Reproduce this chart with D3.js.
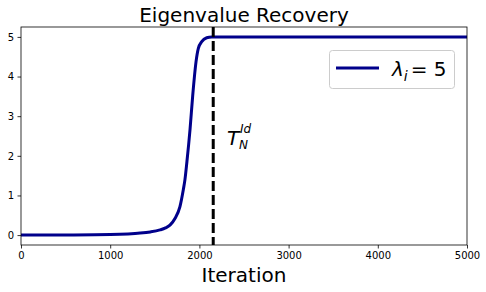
<!DOCTYPE html>
<html><head><meta charset="utf-8">
<script src="https://cdn.jsdelivr.net/npm/d3@7"></script>
<style>body{margin:0;background:#fff}svg{display:block}</style>
</head><body>
<script>
// Data
const iterations = [0, 500, 1000, 1200, 1334, 1450, 1558, 1620, 1670, 1726, 1782, 1820, 1838, 1860, 1895, 1925, 1962, 1988, 2026, 2082, 2138, 2200, 3000, 4000, 5000];
const eigenvalue = [0.0, 0.004, 0.015, 0.03, 0.05, 0.08, 0.13, 0.18, 0.25, 0.42, 0.72, 1.15, 1.4, 1.85, 2.67, 3.52, 4.37, 4.71, 4.88, 4.98, 5.0, 5.0, 5.0, 5.0, 5.0];
const markerIteration = 2155;
const xTicks = [0, 1000, 2000, 3000, 4000, 5000];
const yTicks = [0, 1, 2, 3, 4, 5];
const xDomain = [0, 5000];
const yDomain = [-0.25, 5.25];

const W = 486, H = 292;
const m = {left: 21, right: 467, top: 27, bottom: 245};
const svg = d3.select("body").append("svg").attr("width", W).attr("height", H);
const x = d3.scaleLinear().domain(xDomain).range([m.left, m.right]);
const y = d3.scaleLinear().domain(yDomain).range([m.bottom, m.top]);
const font = "DejaVu Sans";

svg.append("clipPath").attr("id","c").append("rect")
  .attr("x", m.left).attr("y", m.top).attr("width", m.right-m.left).attr("height", m.bottom-m.top);

const pts = iterations.map((d,i)=>[d, eigenvalue[i]]);
svg.append("path").datum(pts).attr("clip-path","url(#c)")
  .attr("fill","none").attr("stroke","#00008b").attr("stroke-width",3)
  .attr("d", d3.line().x(d=>x(d[0])).y(d=>y(d[1])).curve(d3.curveMonotoneX));

svg.append("line").attr("x1", x(markerIteration)).attr("x2", x(markerIteration))
  .attr("y1", m.top).attr("y2", m.bottom)
  .attr("stroke","#000").attr("stroke-width",3).attr("stroke-dasharray","10,4");

// axes
const xa = svg.append("g").attr("transform",`translate(0,${m.bottom})`)
  .call(d3.axisBottom(x).tickValues(xTicks).tickFormat(d3.format("d")).tickSize(3.5).tickPadding(3.5));
const ya = svg.append("g").attr("transform",`translate(${m.left},0)`)
  .call(d3.axisLeft(y).tickValues(yTicks).tickFormat(d3.format("d")).tickSize(3.5).tickPadding(3.5));
[xa, ya].forEach(g=>{
  g.select(".domain").remove();
  g.selectAll("line").attr("stroke","#000").attr("stroke-width",0.8);
  g.selectAll("text").attr("font-family",font).attr("font-size",10).attr("fill","#000");
});
svg.append("rect").attr("x", m.left).attr("y", m.top).attr("width", m.right-m.left).attr("height", m.bottom-m.top)
  .attr("fill","none").attr("stroke","#000").attr("stroke-width",0.8);

// title and label
svg.append("text").attr("x", (m.left+m.right)/2).attr("y", 22).attr("text-anchor","middle")
  .attr("font-family",font).attr("font-size",20).text("Eigenvalue Recovery");
svg.append("text").attr("x", (m.left+m.right)/2).attr("y", 282).attr("text-anchor","middle")
  .attr("font-family",font).attr("font-size",20).text("Iteration");

// annotation T_N^Id
svg.append("text").attr("x", 227).attr("y", 145).attr("font-family",font).attr("font-size",20).attr("font-style","italic").text("T");
svg.append("text").attr("x", 240).attr("y", 133).attr("font-family",font).attr("font-size",12).attr("font-style","italic").text("Id");
svg.append("text").attr("x", 239).attr("y", 149).attr("font-family",font).attr("font-size",12).attr("font-style","italic").text("N");

// legend
svg.append("rect").attr("x",329.5).attr("y",50.5).attr("width",125).attr("height",38).attr("rx",3)
  .attr("fill","#fff").attr("stroke","#ccc").attr("stroke-width",1);
svg.append("line").attr("x1",336).attr("x2",379).attr("y1",68).attr("y2",68)
  .attr("stroke","#00008b").attr("stroke-width",3);
const lt = svg.append("text").attr("x",392).attr("y",76).attr("font-family",font).attr("font-size",20);
lt.append("tspan").attr("font-style","italic").text("λ");
lt.append("tspan").attr("font-style","italic").attr("font-size",14).attr("dy",5).text("i");
lt.append("tspan").attr("dy",-5).attr("dx",3).text("= 5");
</script>
</body></html>
